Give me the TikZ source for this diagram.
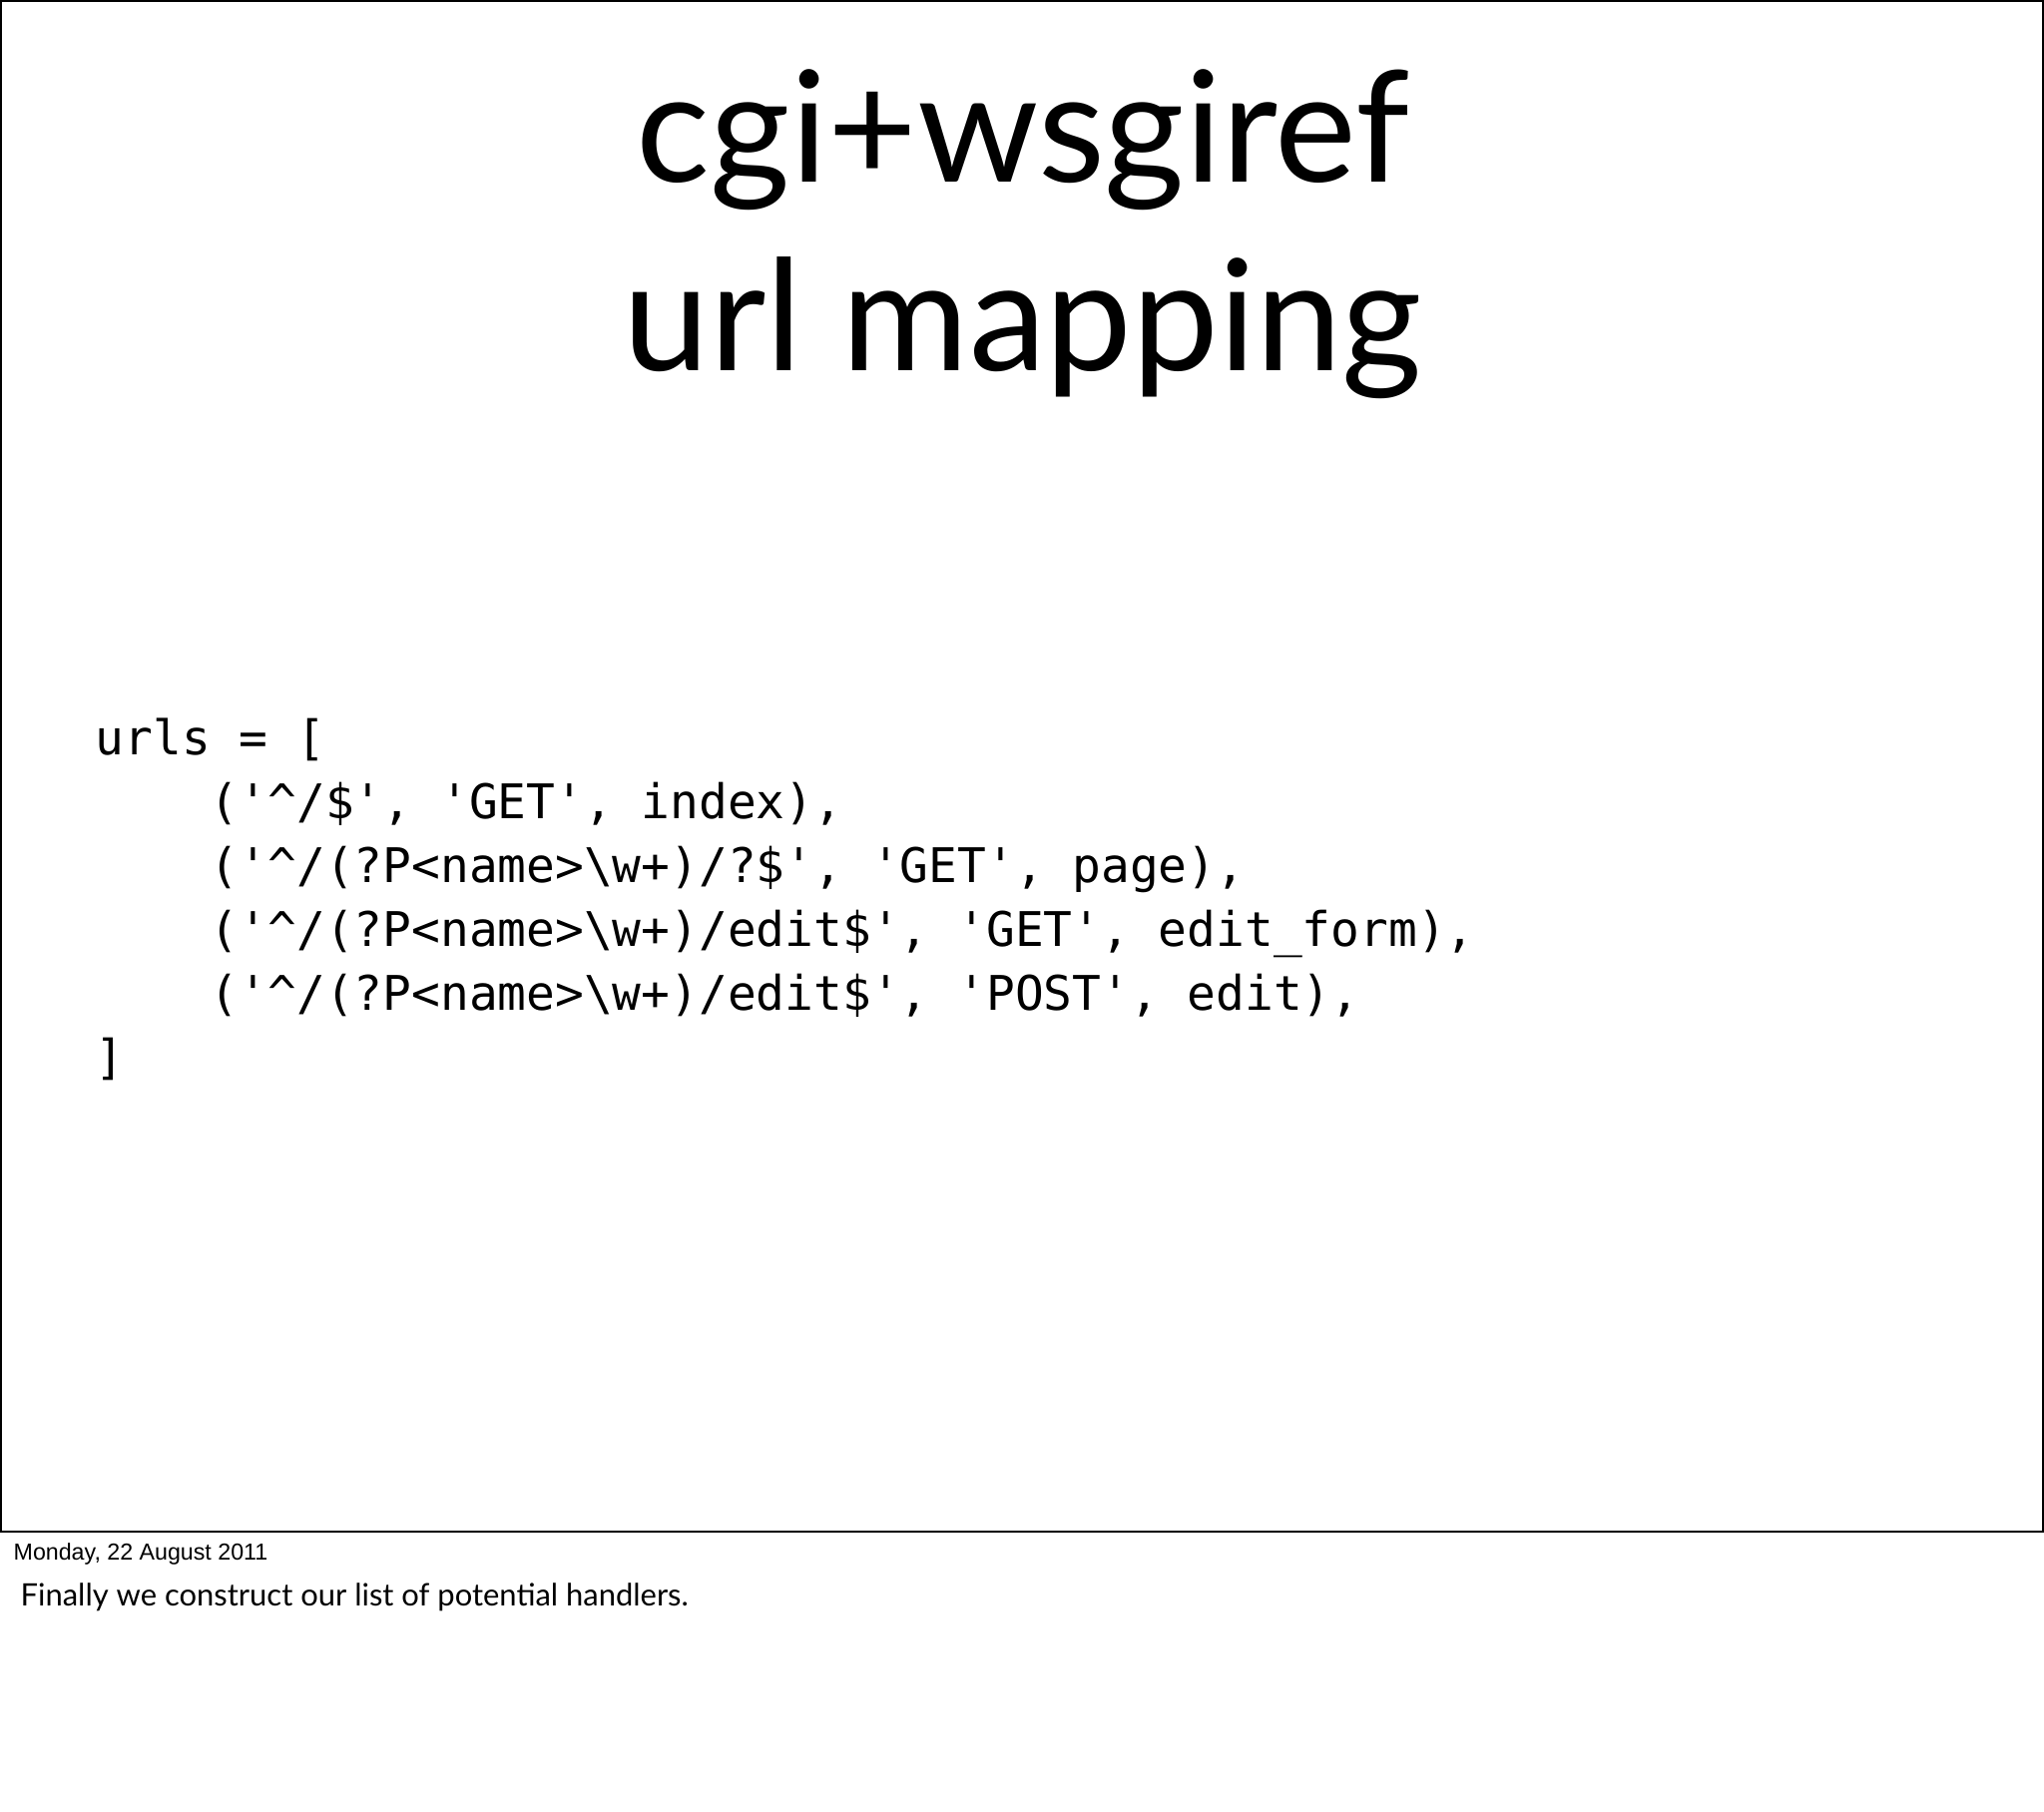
\documentclass[tikz,border=0pt]{standalone}
\usepackage{fontspec}
\setmainfont{Lato}
\setmonofont{DejaVu Sans Mono}
\begin{document}
\begin{tikzpicture}[x=0.01cm,y=-0.01cm,
  title/.style={font=\fontsize{44}{50}\selectfont, inner sep=0, anchor=base},
  code/.style={font=\ttfamily\fontsize{13.6}{18}\selectfont, inner sep=0, anchor=base west},
  ]
\useasboundingbox[fill=white] (0,0) rectangle (2048,1816);
\draw[line width=0.6pt] (1,1) rectangle (2047,1535);
\node[title] (t1) at (1025,183) {cgi+wsgiref};
\node[title] (t2) at (1025,372) {url mapping};
\node[code] (c1) at (95,757) {urls = [};
\node[code] (c2) at (95,821) {\ \ \ \ ('\^{}/\$', 'GET', index),};
\node[code] (c3) at (95,885) {\ \ \ \ ('\^{}/(?P<name>\textbackslash w+)/?\$', 'GET', page),};
\node[code] (c4) at (95,949) {\ \ \ \ ('\^{}/(?P<name>\textbackslash w+)/edit\$', 'GET', edit\_form),};
\node[code] (c5) at (95,1013) {\ \ \ \ ('\^{}/(?P<name>\textbackslash w+)/edit\$', 'POST', edit),};
\node[code] (c6) at (95,1077) {]};
\node[font=\fontspec{Liberation Sans}\fontsize{6.6}{8}\selectfont, inner sep=0, anchor=base west] (d) at (13,1563) {Monday, 22 August 2011};
\node[font=\fontsize{8.8}{10}\selectfont, inner sep=0, anchor=base west] (n) at (20,1609) {Finally we construct our list of potential handlers.};
\end{tikzpicture}
\end{document}
